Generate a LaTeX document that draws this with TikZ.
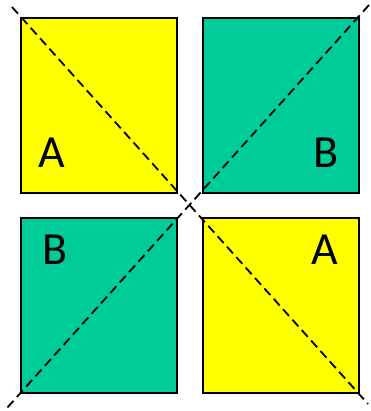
\documentclass[tikz,border=0pt]{standalone}
\usepackage{fontspec}
\setmainfont{Carlito}
\definecolor{sqyellow}{RGB}{255,255,0}
\definecolor{sqteal}{RGB}{0,204,153}
\begin{document}
\begin{tikzpicture}[x=1pt,y=-1pt,
  sq/.style={draw=black,line width=1.5pt,minimum width=156pt,minimum height=175pt,inner sep=0pt,outer sep=0pt},
  lbl/.style={font=\fontsize{46}{46}\selectfont,inner sep=0pt,text=black},
  diag/.style={draw=black,line width=1.8pt,dash pattern=on 9pt off 5pt}]
\useasboundingbox (0,0) rectangle (370,411);
\node[sq,fill=sqyellow] (tl) at (99,105.5) {};
\node[sq,fill=sqteal] (tr) at (281,105.5) {};
\node[sq,fill=sqteal] (bl) at (99,305.5) {};
\node[sq,fill=sqyellow] (br) at (281,305.5) {};
\coordinate (d1a) at (12,7);
\coordinate (d1b) at (368,404);
\coordinate (d2a) at (369,5);
\coordinate (d2b) at (7,408);
\draw[diag] (d1a) -- (d1b);
\draw[diag] (d2a) -- (d2b);
\node[lbl] (la1) at (52,153) {A};
\node[lbl] (lb1) at (326,153) {B};
\node[lbl] (lb2) at (55,250) {B};
\node[lbl] (la2) at (325,250) {A};
\end{tikzpicture}
\end{document}
